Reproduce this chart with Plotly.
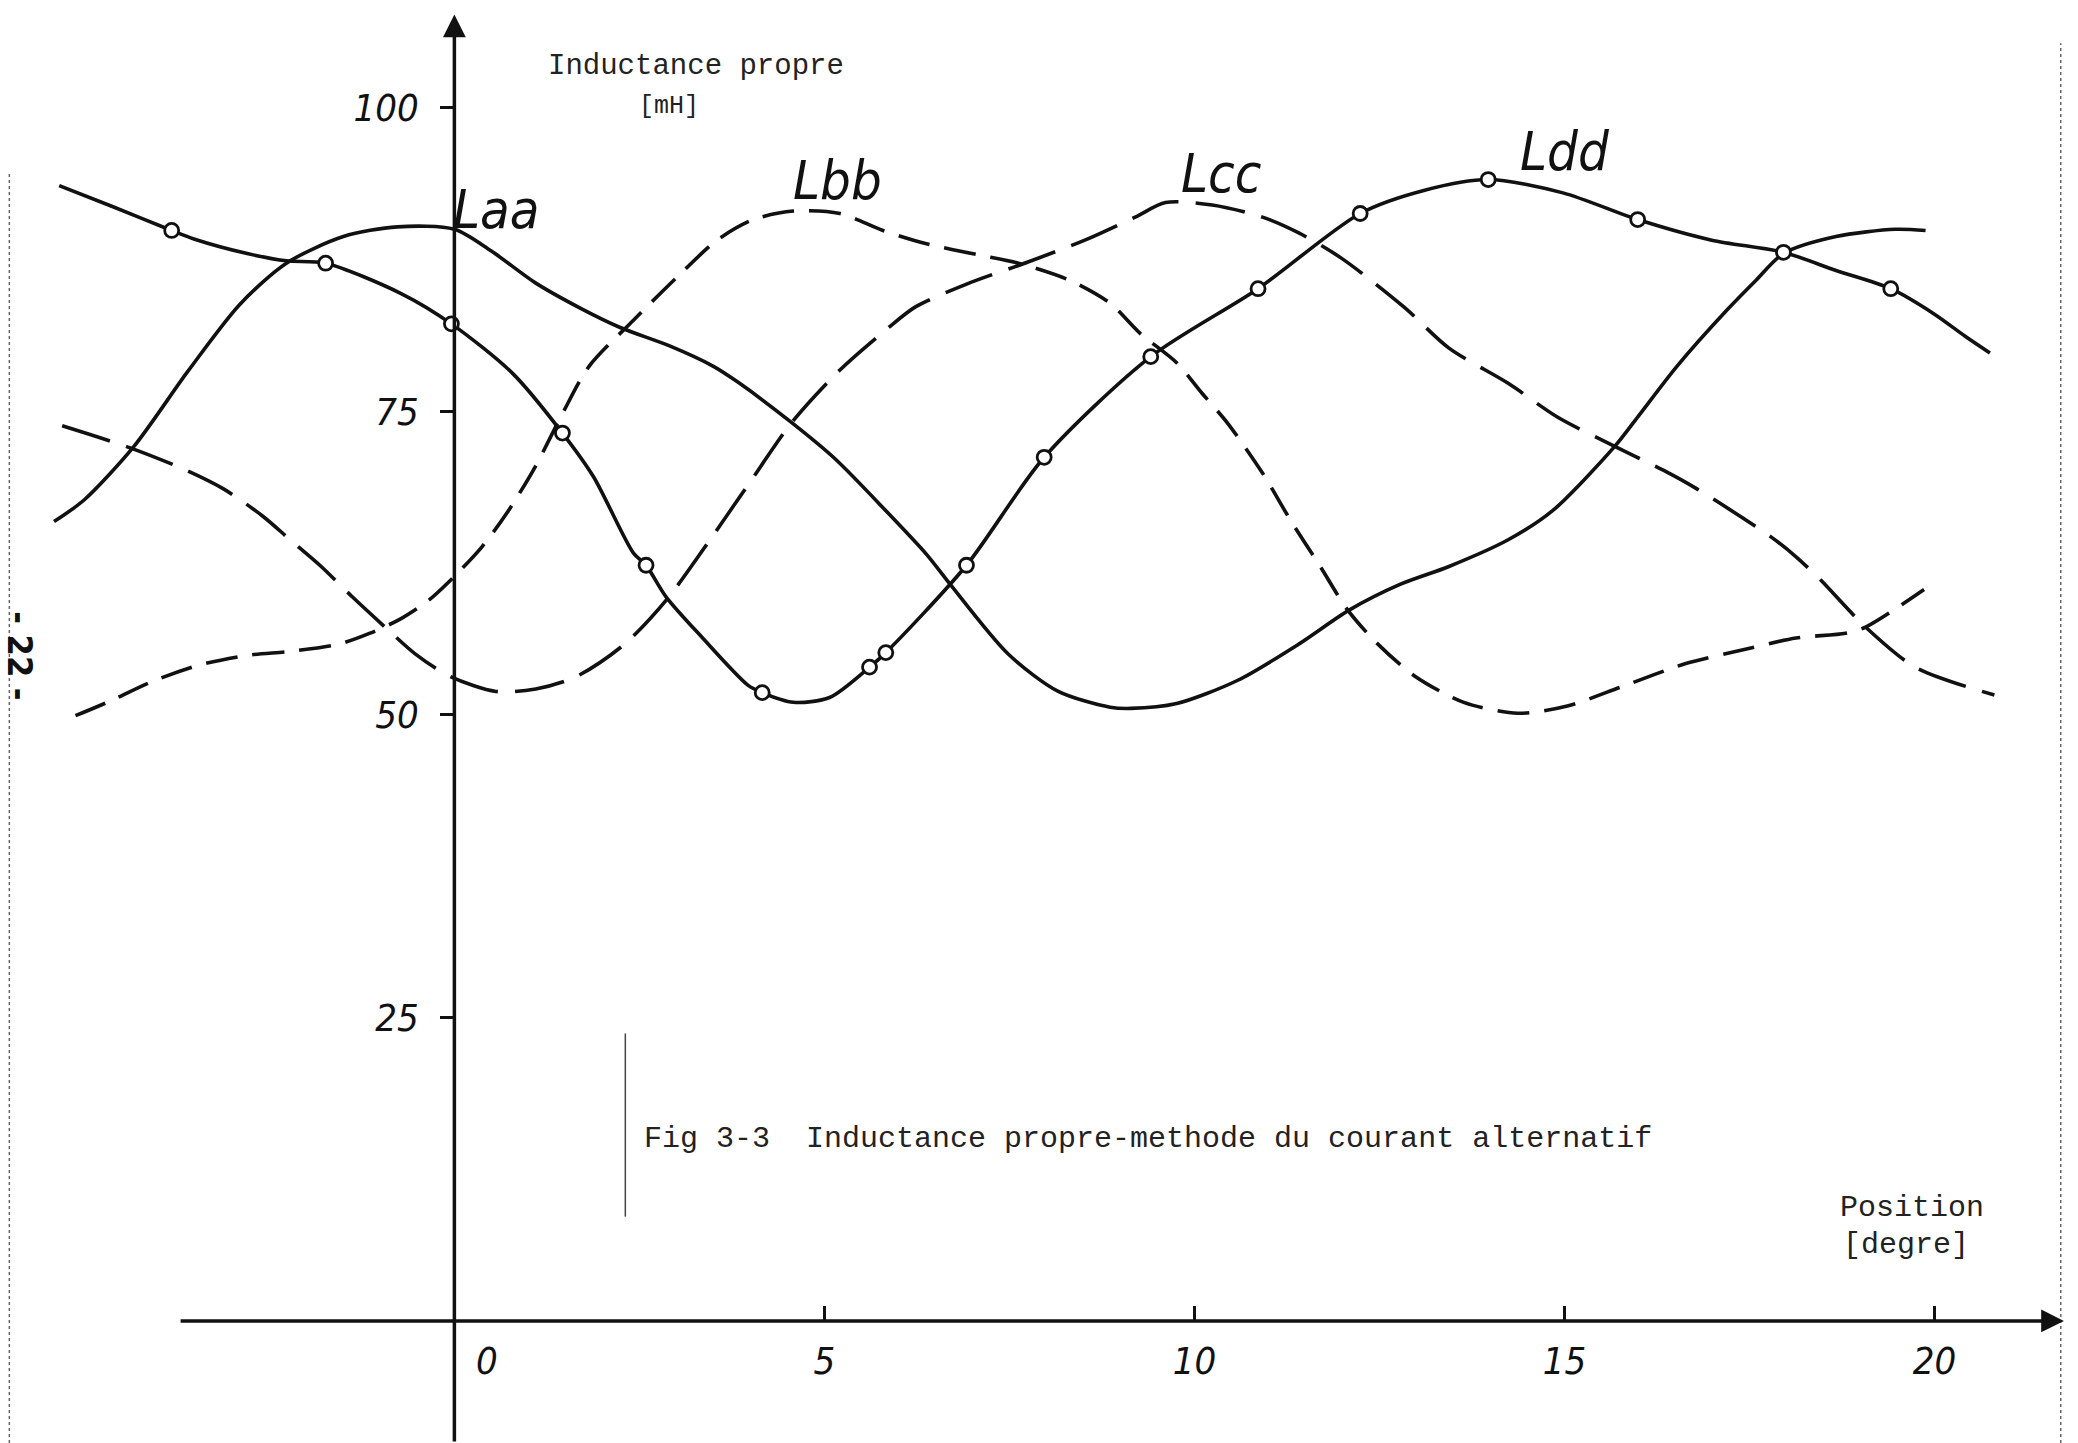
import plotly.graph_objects as go

# ---------------- data ----------------
laa_x = [-5.41, -5.0, -4.33, -3.6, -2.9, -2.27, -1.5, -0.77, 0.0, 0.5, 1.09, 1.7, 2.24, 2.9, 3.5, 3.83,
         4.55, 5.14, 5.83, 6.38, 6.69, 7.48, 8.16, 8.86, 9.14, 9.76, 10.58, 11.41, 12.09, 12.77, 13.44,
         14.24, 14.84, 15.68, 16.0, 16.52, 17.19, 17.59, 17.96, 18.67, 19.47, 19.88]
laa_y = [65.9, 67.7, 72.1, 78.3, 83.8, 87.2, 89.4, 90.2, 90.0, 88.2, 85.6, 83.5, 81.9, 80.4, 78.7, 77.4,
         74.1, 71.1, 66.8, 63.2, 60.8, 55.0, 51.9, 50.6, 50.5, 50.9, 52.8, 55.8, 58.6, 60.7, 62.2,
         64.4, 66.8, 72.1, 74.6, 78.7, 83.3, 85.8, 88.0, 89.4, 90.0, 89.9]

lbb_x = [-5.12, -4.69, -4.09, -3.43, -2.77, -2.22, -1.56, -1.14, -0.72, -0.35, -0.08, 0.37, 0.73, 1.1,
         1.46, 1.82, 2.42, 3.0, 3.55, 4.04, 4.58, 5.21, 5.79, 6.38, 7.07, 7.62, 8.31, 8.86, 9.27, 9.76,
         10.10, 10.45, 10.92, 11.3, 11.69, 12.06, 12.43, 12.97, 13.64, 14.37, 15.04, 15.78, 16.64,
         17.46, 18.13, 18.8, 19.07, 19.86]
lbb_y = [49.9, 51.0, 52.7, 54.1, 54.9, 55.2, 55.8, 56.7, 57.9, 59.4, 60.9, 63.8, 66.8, 70.5,
         74.8, 78.7, 82.5, 86.0, 89.1, 90.8, 91.5, 91.3, 89.9, 88.8, 87.9, 87.2, 85.8, 83.9, 81.4, 79.0,
         76.5, 74.0, 69.9, 66.0, 62.3, 58.7, 56.1, 53.2, 51.0, 50.1, 50.7, 52.3, 54.2,
         55.4, 56.3, 56.7, 57.2, 60.3]

lcc_x = [-5.30, -4.39, -3.61, -3.12, -2.58, -2.22, -1.80, -1.38, -0.90, -0.53, -0.08, 0.56, 1.1, 1.64,
         2.30, 2.86, 3.5, 4.0, 4.55, 5.21, 5.83, 6.23, 6.93, 7.75, 8.52, 9.20, 9.61, 10.24, 10.92, 11.41,
         11.99, 12.83, 13.44, 14.24, 14.91, 15.68, 16.38, 16.79, 17.80, 18.13, 18.46, 19.07, 19.74, 20.81]
lcc_y = [73.8, 72.0, 70.1, 68.6, 66.3, 64.4, 62.2, 59.7, 57.0, 55.0, 53.2, 51.9, 52.1, 53.1,
         55.8, 59.4, 64.8, 69.2, 74.0, 78.4, 81.7, 83.6, 85.5, 87.3, 89.1, 91.0, 92.2, 92.0, 91.0, 89.7,
         87.6, 83.6, 80.2, 77.3, 74.5, 72.1, 70.0, 68.6, 64.6, 63.0, 61.1, 57.2, 53.9, 51.6]

ldd_x = [-5.34, -4.63, -3.82, -3.52, -2.8, -2.27, -1.74, -0.72, -0.04, 0.79, 1.46, 1.88, 2.42, 2.59,
         2.86, 3.34, 3.97, 4.16, 4.58, 5.07, 5.61, 5.83, 6.92, 7.97, 9.41, 10.86, 12.24, 13.1, 13.97,
         14.98, 15.99, 16.99, 17.96, 18.67, 19.41, 20.0, 20.41, 20.75]
ldd_y = [93.6, 91.9, 89.9, 89.2, 88.0, 87.4, 87.2, 84.7, 82.2, 78.1, 73.2, 69.6, 63.3, 62.3,
         59.7, 56.4, 52.4, 51.8, 51.0, 51.4, 53.9, 55.1, 62.3, 71.2, 79.5, 85.1, 91.3, 93.2, 94.1,
         93.0, 90.8, 89.1, 88.1, 86.6, 85.1, 83.0, 81.2, 79.8]

# measured points marked with small circles on Ldd
ldd_mx = [-3.82, -1.74, -0.04, 1.46, 2.59, 4.16, 5.61, 5.83, 6.92, 7.97, 9.41, 10.86, 12.24,
          13.97, 15.99, 17.96, 19.41]
ldd_my = [89.9, 87.2, 82.2, 73.2, 62.3, 51.8, 53.9, 55.1, 62.3, 71.2, 79.5, 85.1, 91.3,
          94.1, 90.8, 88.1, 85.1]

x_ticks = [0, 5, 10, 15, 20]
x_ticktext = ["\u00a0\u00a0\u00a0\u00a0\u00a0\u00a00", "5", "10", "15", "20"]
y_ticks = [25, 50, 75, 100]
y_ticktext = ["25", "50", "75", "100"]

curve_labels = ["Laa", "Lbb", "Lcc", "Ldd"]
label_x = [-0.05, 4.55, 9.79, 14.37]
label_y = [91.6, 94.0, 94.6, 96.4]

x_range = [-6.14, 21.94]
y_range = [-10.06, 108.9]

# ---------------- figure ----------------
HAND = "Liberation Sans Narrow, DejaVu Sans Condensed, Liberation Sans, sans-serif"
MONO = "Liberation Mono, DejaVu Sans Mono, monospace"
INK = "#111111"
LW = 3.6

fig = go.Figure()

fig.add_trace(go.Scatter(x=laa_x, y=laa_y, mode="lines", name="Laa",
                         line=dict(color=INK, width=LW, shape="spline", smoothing=0.8)))
fig.add_trace(go.Scatter(x=lbb_x, y=lbb_y, mode="lines", name="Lbb",
                         line=dict(color=INK, width=LW, shape="spline", smoothing=0.8, dash="32px,15px")))
fig.add_trace(go.Scatter(x=lcc_x, y=lcc_y, mode="lines", name="Lcc",
                         line=dict(color=INK, width=LW, shape="spline", smoothing=0.8, dash="50px,17px")))
fig.add_trace(go.Scatter(x=ldd_x, y=ldd_y, mode="lines", name="Ldd",
                         line=dict(color=INK, width=LW, shape="spline", smoothing=0.8)))
fig.add_trace(go.Scatter(x=ldd_mx, y=ldd_my, mode="markers", name="Ldd points",
                         marker=dict(symbol="circle", size=14, color="white",
                                     line=dict(color=INK, width=2.8))))

pos_x_axis = (0 - y_range[0]) / (y_range[1] - y_range[0])
pos_y_axis = (0 - x_range[0]) / (x_range[1] - x_range[0])

fig.update_xaxes(range=x_range, showgrid=False, zeroline=False, showline=False,
                 anchor="free", position=pos_x_axis,
                 ticks="inside", ticklen=15, tickwidth=3, tickcolor=INK,
                 tickvals=x_ticks, ticktext=x_ticktext, ticklabelstandoff=14,
                 tickfont=dict(family=HAND, size=38, color=INK, style="italic"))
fig.update_yaxes(range=y_range, showgrid=False, zeroline=False, showline=False,
                 anchor="free", position=pos_y_axis,
                 ticks="outside", ticklen=14, tickwidth=3, tickcolor=INK,
                 tickvals=y_ticks, ticktext=y_ticktext, ticklabelstandoff=14,
                 tickfont=dict(family=HAND, size=38, color=INK, style="italic"))

annotations = []
# axis lines with arrow heads
annotations.append(dict(x=0, y=107.7, ax=0, ay=y_range[0], xref="x", yref="y", axref="x", ayref="y",
                        text="", showarrow=True, arrowhead=2, arrowsize=1.3, arrowwidth=3.5, arrowcolor=INK))
annotations.append(dict(x=21.75, y=0, ax=-3.72, ay=0, xref="x", yref="y", axref="x", ayref="y",
                        text="", showarrow=True, arrowhead=2, arrowsize=1.3, arrowwidth=3.5, arrowcolor=INK))
# curve names (handwritten)
for t, lx, ly in zip(curve_labels, label_x, label_y):
    annotations.append(dict(x=lx, y=ly, xref="x", yref="y", text=t, showarrow=False,
                            xanchor="left", yanchor="middle",
                            font=dict(family=HAND, size=54, color=INK, style="italic")))
# typed texts
annotations.append(dict(x=3.27, y=103.4, xref="x", yref="y", text="Inductance propre", showarrow=False,
                        xanchor="center", yanchor="middle", font=dict(family=MONO, size=29, color="#222")))
annotations.append(dict(x=2.9, y=100.1, xref="x", yref="y", text="[mH]", showarrow=False,
                        xanchor="center", yanchor="middle", font=dict(family=MONO, size=25, color="#222")))
annotations.append(dict(x=19.7, y=9.3, xref="x", yref="y", text="Position", showarrow=False,
                        xanchor="center", yanchor="middle", font=dict(family=MONO, size=30, color="#222")))
annotations.append(dict(x=19.62, y=6.3, xref="x", yref="y", text="[degre]", showarrow=False,
                        xanchor="center", yanchor="middle", font=dict(family=MONO, size=30, color="#222")))
annotations.append(dict(x=2.54, y=15.0, xref="x", yref="y",
                        text="Fig 3-3  Inductance propre-methode du courant alternatif", showarrow=False,
                        xanchor="left", yanchor="middle", font=dict(family=MONO, size=30, color="#222")))
annotations.append(dict(x=-5.87, y=54.8, xref="x", yref="y", text="<b>- 22 -</b>", showarrow=False,
                        textangle=90, xanchor="center", yanchor="middle",
                        font=dict(family=HAND, size=34, color=INK)))

shapes = [
    dict(type="line", xref="x", yref="y", x0=2.31, x1=2.31, y0=8.6, y1=23.7,
         line=dict(color="#444", width=1.5)),
    dict(type="line", xref="paper", yref="paper", x0=0.0045, x1=0.0045, y0=0.0, y1=0.88,
         line=dict(color="#666", width=1.5, dash="dot")),
    dict(type="line", xref="paper", yref="paper", x0=0.9917, x1=0.9917, y0=0.0, y1=0.97,
         line=dict(color="#666", width=1.5, dash="dot")),
]

fig.update_layout(width=2078, height=1443, margin=dict(l=0, r=0, t=0, b=0),
                  paper_bgcolor="white", plot_bgcolor="white", showlegend=False,
                  annotations=annotations, shapes=shapes)

fig.write_html("out.html")
